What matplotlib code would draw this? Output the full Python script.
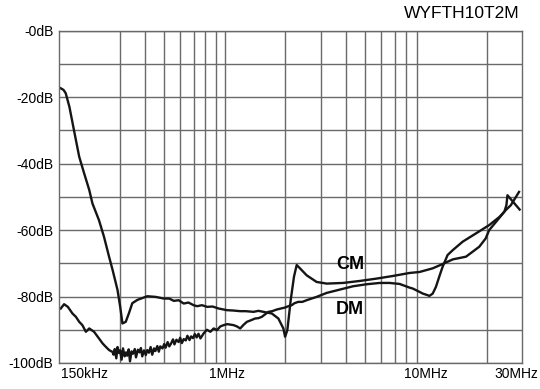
import matplotlib
matplotlib.use("Agg")
import matplotlib.pyplot as plt
from matplotlib.ticker import FixedLocator, NullFormatter

plt.rcParams['font.family'] = ['Liberation Sans', 'DejaVu Sans']

# frequencies in MHz, attenuation in dB
cm_freq = [0.153, 0.158, 0.162, 0.169, 0.178, 0.189, 0.200, 0.212, 0.220, 0.237,
           0.251, 0.266, 0.277, 0.293, 0.302, 0.310, 0.322, 0.334, 0.347, 0.368,
           0.412, 0.453, 0.498, 0.530, 0.558, 0.590, 0.625, 0.660, 0.700, 0.728,
           0.770, 0.817, 0.870, 0.932, 1.025, 1.10, 1.193, 1.27, 1.389, 1.47,
           1.556, 1.713, 1.846, 1.955, 1.994, 2.046, 2.127, 2.208, 2.277, 2.364,
           2.552, 2.86, 3.21, 3.87, 4.69, 5.67, 6.85, 8.28, 9.29, 10.8,
           12.1, 13.6, 15.8, 18.4, 19.8, 20.6, 22.3, 24.5, 25.1, 25.4, 29.2]
cm_db = [-17.3, -17.8, -18.8, -22.9, -29.9, -37.9, -42.9, -47.9, -52.0, -57.0,
         -62.0, -68.0, -72.0, -78.0, -83.0, -88.1, -87.6, -85.0, -82.0, -81.0,
         -79.9, -80.1, -80.6, -80.6, -81.3, -81.1, -82.1, -81.8, -82.6, -82.9,
         -82.6, -83.1, -83.0, -83.6, -84.1, -84.2, -84.4, -84.4, -84.6, -84.3,
         -84.6, -85.1, -86.6, -89.6, -92.1, -90.1, -81.0, -74.0, -70.5, -71.5,
         -73.6, -75.6, -76.1, -75.9, -75.3, -74.6, -73.8, -72.9, -72.6, -71.5,
         -70.2, -68.8, -68.0, -65.0, -62.5, -60.0, -57.5, -54.5, -52.5, -49.5, -53.8]

dm_freq = [0.153, 0.159, 0.166, 0.175, 0.182, 0.189, 0.196, 0.204, 0.212, 0.224,
           0.237, 0.247, 0.256, 0.266, 0.277, 0.280, 0.284, 0.289, 0.293, 0.298,
           0.302, 0.307, 0.312, 0.318, 0.323, 0.327, 0.333, 0.338, 0.344, 0.350,
           0.357, 0.362, 0.370, 0.377, 0.383, 0.389, 0.397, 0.405, 0.412, 0.420,
           0.428, 0.436, 0.445, 0.452, 0.462, 0.470, 0.478, 0.490, 0.500, 0.508,
           0.520, 0.530, 0.540, 0.553, 0.562, 0.575, 0.590, 0.600, 0.612, 0.625,
           0.640, 0.652, 0.668, 0.680, 0.695, 0.710, 0.725, 0.740, 0.757, 0.785,
           0.815, 0.848, 0.881, 0.915, 0.950, 0.987, 1.03, 1.106, 1.15, 1.193,
           1.24, 1.288, 1.34, 1.416, 1.47, 1.528, 1.59, 1.648, 1.72, 1.813,
           1.90, 1.994, 2.07, 2.151, 2.22, 2.319, 2.43, 2.552, 2.70, 2.86,
           3.21, 3.73, 4.34, 5.06, 5.89, 6.59, 7.39, 8.28, 8.61, 9.29,
           9.64, 10.2, 10.4, 10.8, 11.2, 11.7, 12.1, 12.4, 12.8, 13.6,
           15.2, 17.7, 20.6, 23.2, 24.9, 26.4, 29.0]
dm_db = [-83.6, -82.3, -83.1, -85.1, -86.1, -87.6, -88.6, -90.6, -89.6, -90.6,
         -92.6, -94.1, -95.1, -96.1, -96.7, -97.5, -95.8, -98.6, -95.2, -97.0,
         -96.2, -99.0, -95.6, -98.0, -96.8, -97.8, -95.9, -99.5, -96.5, -97.2,
         -95.8, -98.3, -96.0, -96.8, -95.5, -98.0, -96.2, -97.6, -96.1, -96.9,
         -95.2, -97.5, -95.6, -96.4, -94.9, -96.6, -95.0, -95.6, -94.3, -95.4,
         -93.7, -95.0, -94.2, -92.9, -94.4, -93.0, -93.7, -92.4, -94.0, -92.8,
         -93.2, -91.8, -93.1, -92.0, -92.5, -91.3, -92.3, -91.2, -92.6, -91.1,
         -90.0, -90.6, -89.6, -90.1, -89.0, -88.6, -88.3, -88.6, -89.0, -89.6,
         -88.5, -87.6, -87.2, -86.6, -86.5, -86.1, -85.3, -84.6, -84.4, -83.9,
         -83.6, -83.3, -82.9, -82.6, -82.0, -81.6, -81.6, -81.1, -80.6, -80.1,
         -78.9, -77.9, -76.9, -76.3, -75.9, -75.9, -76.2, -77.3, -77.6, -78.6,
         -79.1, -79.6, -79.8, -79.1, -77.1, -73.6, -71.0, -69.5, -67.5, -66.0,
         -63.5, -61.0, -58.5, -56.0, -54.0, -52.5, -48.5]

y_ticks = [0, -20, -40, -60, -80, -100]
y_labels = ["-0dB", "-20dB", "-40dB", "-60dB", "-80dB", "-100dB"]
x_label_pos = [0.2, 1.02, 10, 28]
x_labels = ["150kHz", "1MHz", "10MHz", "30MHz"]
grid_freq = [0.2, 0.3, 0.4, 0.5, 0.6, 0.7, 0.8, 0.9,
             1, 2, 3, 4, 5, 6, 7, 8, 9, 10, 20]

fig = plt.figure(figsize=(5.4, 3.89), dpi=100)
ax = fig.add_axes([59/540, 1-363/389, 463/540, 332.2/389])

ax.plot(cm_freq, cm_db, color="#151515", lw=1.7, solid_joinstyle="round")
ax.plot(dm_freq, dm_db, color="#151515", lw=1.7, solid_joinstyle="round")

ax.set_xscale("log")
ax.set_xlim(0.15, 30)
ax.set_ylim(-100, 0)

gcol = "#6a6a6a"
ax.xaxis.set_minor_locator(FixedLocator(grid_freq))
ax.xaxis.set_minor_formatter(NullFormatter())
ax.set_xticks(x_label_pos)
ax.set_xticklabels(x_labels, fontsize=10)
ax.set_yticks(range(-100, 1, 10), minor=True)
ax.set_yticks(y_ticks)
ax.set_yticklabels(y_labels, fontsize=10)
ax.tick_params(which="both", length=0)
ax.tick_params(axis="y", pad=4)
ax.tick_params(axis="x", pad=3)
ax.grid(True, which="minor", color=gcol, lw=1.0)
ax.grid(True, which="major", axis="y", color=gcol, lw=1.0)
for s in ax.spines.values():
    s.set_color(gcol)
    s.set_linewidth(1.0)

ax.text(4.2, -70.2, "CM", fontsize=13, fontweight="bold", ha="center", va="center")
ax.text(4.2, -84.0, "DM", fontsize=13, fontweight="bold", ha="center", va="center")

fig.text(520/540, 1-13/389, "WYFTH10T2M", fontsize=12.5, ha="right", va="center")

fig.savefig("out.png", dpi=100)
